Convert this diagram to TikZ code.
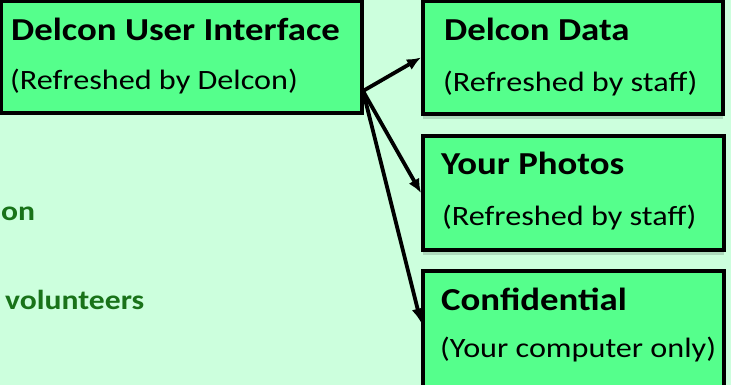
\documentclass[tikz,border=0pt]{standalone}
\usepackage{fontspec}
\setmainfont{Carlito}[FakeStretch=1.15]
\usetikzlibrary{arrows.meta,shadows}
\definecolor{bggreen}{RGB}{204,255,221}
\definecolor{boxgreen}{RGB}{85,255,140}
\definecolor{textgreen}{RGB}{25,115,25}
\begin{document}
\begin{tikzpicture}[x=1pt, y=-1pt,
    box/.style={rectangle, draw=black, fill=boxgreen, line width=4pt, inner sep=0pt},
    shadowbox/.style={box, drop shadow={shadow xshift=0pt, shadow yshift=-5pt, fill=black, opacity=.15}},
    title/.style={anchor=base west, inner sep=0pt, font=\fontsize{32}{32}\selectfont\bfseries},
    sub/.style={anchor=base west, inner sep=0pt, font=\fontsize{28}{28}\selectfont},
    side/.style={anchor=base west, inner sep=0pt, text=textgreen, font=\fontsize{27.5}{27.5}\selectfont\bfseries},
    link/.style={line width=3.8pt, -{Latex[length=14pt,width=12pt]}}]
      \useasboundingbox (0,0) rectangle (731,385);
      \clip (0,0) rectangle (731,385);
      \fill[bggreen] (0,0) rectangle (731,385);

      \node[box, minimum width=361pt, minimum height=112pt] (ui) at (181.5,57) {};
      \node[shadowbox, minimum width=300pt, minimum height=113pt] (data) at (573,57.5) {};
      \node[shadowbox, minimum width=301pt, minimum height=114pt] (photos) at (573.5,193) {};
      \node[shadowbox, minimum width=301pt, minimum height=129pt] (conf) at (573.5,335.5) {};

      \node[title] (uititle) at (11,41) {Delcon User Interface};
      \node[sub] (uisub) at (10,90) {(Refreshed by Delcon)};
      \node[title] (datatitle) at (444,41) {Delcon Data};
      \node[sub] (datasub) at (443,92) {(Refreshed by staff)};
      \node[title] (phototitle) at (441,175) {Your Photos};
      \node[sub] (photosub) at (442,225) {(Refreshed by staff)};
      \node[title] (conftitle) at (441,310) {Confidential};
      \node[sub] (confsub) at (440,357) {(Your computer only)};

      \node[side] (on) at (1,220) {on};
      \node[side] (volunteers) at (5,309) {volunteers};

      \coordinate (hub) at (363,91);
      \draw[link] (hub) -- (data.west);
      \draw[link] (hub) -- (photos.west);
      \draw[link] (hub) -- ([yshift=13pt]conf.west);
    \end{tikzpicture}
\end{document}
